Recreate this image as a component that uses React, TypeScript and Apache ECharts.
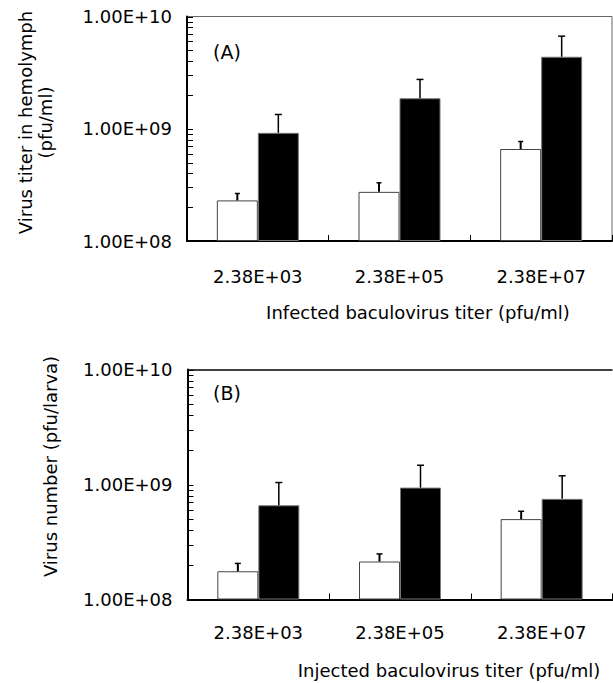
import React, { useEffect, useRef } from 'react';
import * as echarts from 'echarts';

const categories = ['2.38E+03', '2.38E+05', '2.38E+07'];
const yTickLabels = ['1.00E+08', '1.00E+09', '1.00E+10'];
const yTickValues = [
  1e8, 2e8, 3e8, 4e8, 5e8, 6e8, 7e8, 8e8, 9e8,
  1e9, 2e9, 3e9, 4e9, 5e9, 6e9, 7e9, 8e9, 9e9, 1e10,
];
const yMax = 1e10;

const aControl = [2.3e8, 2.74e8, 6.6e8];
const aControlErr = [0.35e8, 0.56e8, 1.1e8];
const aTreated = [9.2e8, 1.87e9, 4.38e9];
const aTreatedErr = [4.2e8, 0.88e9, 2.3e9];

const bControl = [1.76e8, 2.14e8, 5.0e8];
const bControlErr = [0.3e8, 0.35e8, 0.85e8];
const bTreated = [6.6e8, 9.4e8, 7.5e8];
const bTreatedErr = [3.8e8, 5.3e8, 4.4e8];

const FONT = 'DejaVu Sans';
const BAR_W = 41;

function errSeries(vals: number[], errs: number[], axisIdx: number, offset: number, lw: number, cap: number) {
  return {
    type: 'custom',
    xAxisIndex: axisIdx,
    yAxisIndex: axisIdx,
    z: 5,
    encode: { x: 0, y: 1 },
    data: vals.map((v, i) => [i, v, v + errs[i]]),
    renderItem: (params: any, api: any) => {
      const i = api.value(0);
      const v = api.value(1);
      const hi = api.value(2);
      const base = api.coord([i, v]);
      const top = api.coord([i, hi]);
      const x = base[0] + offset;
      const style = { stroke: '#000', lineWidth: lw };
      return {
        type: 'group',
        children: [
          { type: 'line', shape: { x1: x, y1: base[1], x2: x, y2: top[1] }, style },
          { type: 'line', shape: { x1: x - cap, y1: top[1], x2: x + cap, y2: top[1] }, style: { stroke: '#000', lineWidth: 1.5 } },
        ],
      };
    },
  };
}

function tickSeries(axisIdx: number) {
  return {
    type: 'custom',
    xAxisIndex: axisIdx,
    yAxisIndex: axisIdx,
    z: 6,
    silent: true,
    clip: false,
    encode: { x: 0, y: 1 },
    data: yTickValues.map((v) => [0, v]),
    renderItem: (params: any, api: any) => {
      const p = api.coord([0, api.value(1)]);
      const band = api.size([1, 0])[0];
      const x0 = p[0] - band / 2;
      const y = Math.round(p[1]) + 0.5;
      return {
        type: 'line',
        shape: { x1: x0, y1: y, x2: x0 + 6, y2: y },
        style: { stroke: '#000', lineWidth: 1 },
      };
    },
  };
}

function xAxisDef(gridIndex: number, margin: number) {
  return {
    type: 'category',
    gridIndex,
    data: categories,
    boundaryGap: true,
    axisLine: { show: true, lineStyle: { color: '#000', width: 2 } },
    axisTick: { show: true, inside: true, length: 6, alignWithLabel: false, lineStyle: { color: '#000', width: 1 } },
    axisLabel: { fontSize: 18, color: '#000', fontFamily: FONT, margin },
    splitLine: { show: false },
    splitArea: { show: false },
  };
}

function yAxisDef(gridIndex: number) {
  return {
    type: 'log',
    logBase: 10,
    gridIndex,
    min: 1e8,
    max: 1e10,
    startValue: 1e8,
    axisLine: { show: true, lineStyle: { color: '#000', width: 2 } },
    axisTick: { show: false },
    splitLine: { show: false },
    splitArea: { show: false },
    axisLabel: {
      fontSize: 18,
      color: '#000',
      fontFamily: FONT,
      margin: 15,
      formatter: (v: number) => yTickLabels[Math.round(Math.log10(v)) - 8] ?? '',
    },
  };
}

export default function App() {
  const ref = useRef<HTMLDivElement>(null);
  useEffect(() => {
    document.body.style.margin = '0';
    const chart = echarts.init(ref.current!, null, { renderer: 'svg' });
    const textStyle = { fill: '#000', fontSize: 18, fontFamily: FONT };
    chart.setOption({
      animation: false,
      backgroundColor: '#fff',
      grid: [
        { left: 187, top: 16.5, width: 425, height: 224.5, show: true, borderColor: '#666', borderWidth: 1, backgroundColor: 'transparent' },
        { left: 187.5, top: 369.5, width: 425, height: 230, show: false },
      ],
      xAxis: [xAxisDef(0, 26), xAxisDef(1, 24)],
      yAxis: [yAxisDef(0), yAxisDef(1)],
      series: [
        { type: 'bar', xAxisIndex: 0, yAxisIndex: 0, data: aControl, barWidth: BAR_W, barGap: '0%', itemStyle: { color: '#fff', borderColor: '#444', borderWidth: 1 } },
        { type: 'bar', xAxisIndex: 0, yAxisIndex: 0, data: aTreated, barWidth: BAR_W, barGap: '0%', itemStyle: { color: '#000', borderColor: '#777', borderWidth: 1 } },
        {
          type: 'bar', xAxisIndex: 1, yAxisIndex: 1, data: bControl, barWidth: BAR_W, barGap: '0%',
          itemStyle: { color: '#fff', borderColor: '#444', borderWidth: 1 },
          markLine: {
            silent: true,
            symbol: 'none',
            label: { show: false },
            lineStyle: { color: '#000', type: 'solid', width: 1.5 },
            data: [{ yAxis: yMax }],
          },
        },
        { type: 'bar', xAxisIndex: 1, yAxisIndex: 1, data: bTreated, barWidth: BAR_W, barGap: '0%', itemStyle: { color: '#000', borderColor: '#777', borderWidth: 1 } },
        errSeries(aControl, aControlErr, 0, -BAR_W / 2, 2, 2.5),
        errSeries(aTreated, aTreatedErr, 0, BAR_W / 2, 1.5, 3.5),
        errSeries(bControl, bControlErr, 1, -BAR_W / 2, 2, 3),
        errSeries(bTreated, bTreatedErr, 1, BAR_W / 2, 1.5, 3.5),
        tickSeries(0),
        tickSeries(1),
      ],
      graphic: [
        { type: 'text', x: 213, y: 52, style: { ...textStyle, text: '(A)', fontSize: 19, verticalAlign: 'middle' } },
        { type: 'text', x: 213, y: 393, style: { ...textStyle, text: '(B)', fontSize: 19, verticalAlign: 'middle' } },
        {
          type: 'text', x: 35, y: 122.5, rotation: Math.PI / 2,
          style: { ...textStyle, text: 'Virus titer in hemolymph\n(pfu/ml)', align: 'center', verticalAlign: 'middle', lineHeight: 20 },
        },
        {
          type: 'text', x: 50, y: 466.5, rotation: Math.PI / 2,
          style: { ...textStyle, text: 'Virus number (pfu/larva)', align: 'center', verticalAlign: 'middle' },
        },
        { type: 'text', x: 418, y: 312, style: { ...textStyle, text: 'Infected baculovirus titer (pfu/ml)', align: 'center', verticalAlign: 'middle' } },
        { type: 'text', x: 449, y: 670, style: { ...textStyle, text: 'Injected baculovirus titer (pfu/ml)', align: 'center', verticalAlign: 'middle' } },
      ],
    });
    return () => chart.dispose();
  }, []);
  return <div ref={ref} style={{ position: 'absolute', left: 0, top: 0, width: 613, height: 683 }} />;
}
